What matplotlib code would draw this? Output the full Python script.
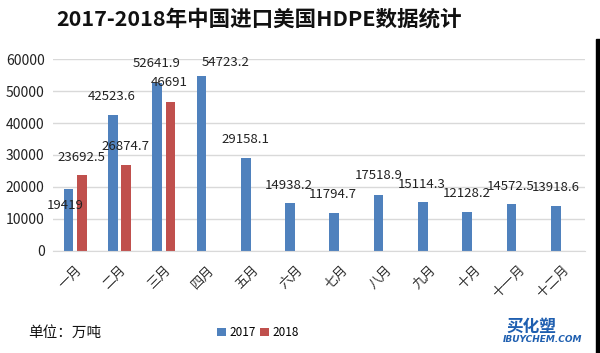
import matplotlib.pyplot as plt
import numpy as np
from matplotlib.patches import Rectangle

plt.rcParams['font.family'] = ['Noto Sans CJK SC', 'DejaVu Sans']

months = ["一月", "二月", "三月", "四月", "五月", "六月",
          "七月", "八月", "九月", "十月", "十一月", "十二月"]
v2017 = [19419, 42523.6, 52641.9, 54723.2, 29158.1, 14938.2,
         11794.7, 17518.9, 15114.3, 12128.2, 14572.5, 13918.6]
v2018 = [23692.5, 26874.7, 46691]
labels2017 = ["19419", "42523.6", "52641.9", "54723.2", "29158.1", "14938.2",
              "11794.7", "17518.9", "15114.3", "12128.2", "14572.5", "13918.6"]
labels2018 = ["23692.5", "26874.7", "46691"]

# label offsets (pixels) from top of each bar
off2017 = [(-3, -17), (-1, 19), (0, 19), (24, 14), (0, 18), (-1, 17),
           (-2, 19), (0, 19), (-1, 18), (0, 18), (-1, 18), (0, 19)]
off2018 = [(0, 18), (-1, 18), (-1, 19)]

blue = "#4F81BD"
red = "#C0504D"

fig = plt.figure(figsize=(6.0, 3.53), dpi=100)
ax = fig.add_axes([0.0883, 0.29, 0.886, 0.542])

x = np.arange(len(months))
w = 0.22
b1 = ax.bar(x - 0.15, v2017, w, color=blue, label="2017")
b2 = ax.bar(x[:len(v2018)] + 0.15, v2018, w, color=red, label="2018")

for rect, lab, (dx, dy) in zip(b1, labels2017, off2017):
    ax.annotate(lab, (rect.get_x() + rect.get_width() / 2, rect.get_height()),
                xytext=(dx, dy), textcoords="offset pixels",
                ha="center", va="center", fontsize=9.5, color="#222222")
for rect, lab, (dx, dy) in zip(b2, labels2018, off2018):
    ax.annotate(lab, (rect.get_x() + rect.get_width() / 2, rect.get_height()),
                xytext=(dx, dy), textcoords="offset pixels",
                ha="center", va="center", fontsize=9.5, color="#222222")

ax.set_xlim(-0.5, 11.5)
ax.set_ylim(0, 60000)
ax.set_yticks(range(0, 60001, 10000))
ax.yaxis.grid(True, color="#d9d9d9", linewidth=1)
ax.set_axisbelow(True)
for s in ["top", "right", "left"]:
    ax.spines[s].set_visible(False)
ax.spines["bottom"].set_color("#d9d9d9")
ax.tick_params(axis="y", length=0, labelsize=10, labelcolor="#222222", pad=6)
ax.tick_params(axis="x", length=0, pad=9)
ax.set_xticks(x)
ax.set_xticklabels(months, rotation=45, ha="right", rotation_mode="anchor",
                   fontsize=9.5, color="#333333")

fig.text(0.432, 0.945, "2017-2018年中国进口美国HDPE数据统计", ha="center", va="center",
         fontsize=15.5, fontweight="bold", color="#111111")
fig.text(0.047, 0.057, "单位：万吨", ha="left", va="center", fontsize=10.5, color="#111111")

leg = fig.legend(handles=[b1, b2], loc="center", bbox_to_anchor=(0.43, 0.057),
                 ncol=2, frameon=False, fontsize=8.5, handlelength=0.7,
                 handleheight=0.7, handletextpad=0.3, columnspacing=0.4)

fig.text(0.885, 0.074, "买化塑", ha="center", va="center", fontsize=12,
         fontweight="bold", style="italic", color="#1f5fb0")
fig.text(0.905, 0.037, "IBUYCHEM.COM", ha="center", va="center", fontsize=6.5,
         fontweight="bold", style="italic", color="#1f5fb0", family="DejaVu Sans")

fig.patches.append(Rectangle((0.993, 0), 0.007, 0.89, transform=fig.transFigure,
                             color="black", zorder=5))

fig.savefig("out.png", dpi=100)
